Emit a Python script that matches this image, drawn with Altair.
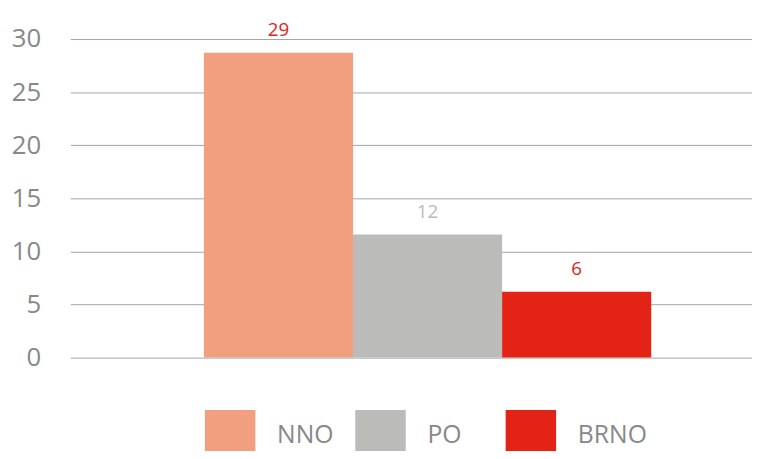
import altair as alt
import pandas as pd

categories = ["NNO", "PO", "BRNO"]
values = [28.7, 11.6, 6.2]
value_labels = ["29", "12", "6"]

bar_colors = ["#F29F80", "#BBBBB9", "#E32316"]
text_colors = ["#E32316", "#BBBBB9", "#E32316"]

df = pd.DataFrame({"cat": categories, "val": values, "lab": value_labels})

font = "Open Sans"

x = alt.X("cat:N", sort=categories, axis=None,
          scale=alt.Scale(paddingInner=0, paddingOuter=0.786, align=0.57))
y = alt.Y("val:Q", scale=alt.Scale(domain=[0, 30], nice=False),
          axis=alt.Axis(values=[0, 5, 10, 15, 20, 25, 30], title=None, domain=False, ticks=False,
                        labelFont=font, labelFontSize=26, labelColor="#888888",
                        labelPadding=30, gridColor="#A4A4A4", gridWidth=1))

bars = alt.Chart(df).mark_bar().encode(
    x=x, y=y,
    color=alt.Color("cat:N", sort=categories,
                    scale=alt.Scale(domain=categories, range=bar_colors),
                    legend=alt.Legend(title=None, orient="none", direction="horizontal",
                                      legendX=136, legendY=375, symbolType="square",
                                      symbolSize=2601, symbolStrokeWidth=0, symbolOpacity=1,
                                      labelFont=font, labelFontSize=25, labelColor="#888888",
                                      labelOffset=22, gridAlign="all", columnPadding=9,
                                      padding=0))
)

texts = alt.Chart(df).mark_text(baseline="alphabetic", dy=-17, font=font, fontSize=19).encode(
    x=x, y=alt.Y("val:Q"),
    text="lab:N",
    color=alt.Color("cat:N", scale=alt.Scale(domain=categories, range=text_colors), legend=None)
)

chart = alt.layer(bars, texts).resolve_scale(color="independent").properties(
    width=689, height=322,
    autosize=alt.AutoSizeParams(type="none"),
    padding={"left": 63, "top": 29, "right": 0, "bottom": 92}
).configure_view(stroke=None)

chart.save("out.html", embed_options={"renderer": "svg", "actions": False})
